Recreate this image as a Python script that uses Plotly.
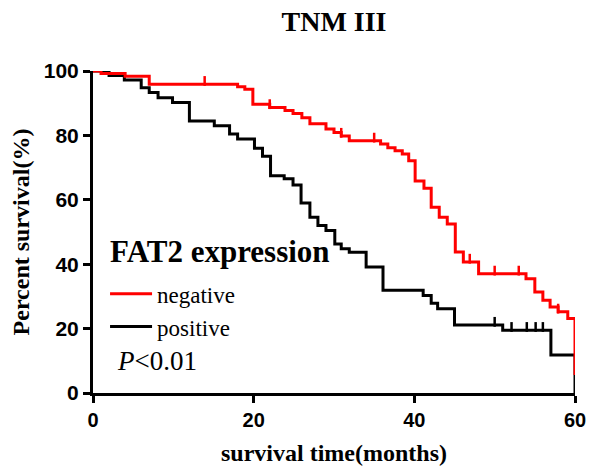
import plotly.graph_objects as go

# ---- data (Kaplan-Meier steps) ----
neg_time = [0, 1.0, 4.0, 7.0, 18.0, 18.9, 19.9, 22.0, 23.9, 24.9, 26.0, 27.0, 29.0, 30.0, 30.9, 31.9,
            35.8, 36.7, 37.6, 38.5, 39.3, 40.1, 41.2, 42.1, 43.1, 44.1, 45.1, 46.1, 48.0, 53.9, 55.0,
            56.0, 56.9, 57.9, 59.1, 60.0]
neg_surv = [100, 99.2, 98.4, 95.9, 95.1, 94.3, 89.7, 88.7, 87.7, 86.8, 85.5, 83.6, 82.0, 80.9, 79.8, 78.3,
            77.3, 76.2, 75.2, 74.2, 72.1, 65.8, 63.6, 57.7, 54.6, 52.5, 43.8, 40.7, 37.0, 35.5, 31.4,
            28.8, 26.7, 25.2, 23.1, 5.6]
neg_censor = [1.5, 13.9, 22.0, 30.9, 35.0, 46.9, 50.0, 53.0, 57.9]

pos_time = [0, 2.0, 3.9, 6.0, 7.0, 8.1, 9.9, 12.0, 15.1, 17.0, 18.0, 20.1, 21.1, 22.1, 23.8, 24.9, 25.9,
            27.0, 28.0, 29.0, 30.1, 30.9, 31.9, 34.0, 36.1, 41.1, 42.1, 42.9, 45.0, 51.0, 57.0, 60.0]
pos_surv = [100, 98.6, 97.2, 94.8, 93.3, 91.7, 90.2, 84.5, 83.0, 80.4, 78.9, 76.0, 73.5, 67.5, 66.5, 64.6,
            59.0, 54.6, 52.0, 50.5, 46.3, 44.8, 43.7, 39.1, 31.9, 30.3, 27.9, 26.2, 21.1, 19.5, 11.8, 0]
pos_censor = [1.5, 50.0, 52.1, 54.0, 55.1, 56.0]

x_ticks = [0, 20, 40, 60]
y_ticks = [0, 20, 40, 60, 80, 100]


def step_value(times, surv, t):
    v = surv[0]
    for ti, si in zip(times, surv):
        if ti <= t:
            v = si
    return v


RED = "#ff0000"
BLACK = "#000000"
SERIF = "Liberation Serif"
SANS = "Liberation Sans"

fig = go.Figure()

series = [
    ("positive", pos_time, pos_surv, pos_censor, BLACK),
    ("negative", neg_time, neg_surv, neg_censor, RED),
]
for name, tt, ss, cc, col in series:
    fig.add_trace(go.Scatter(
        x=tt, y=ss, mode="lines", name=name, line=dict(color=col, width=3, shape="hv"),
        cliponaxis=False,
    ))
    fig.add_trace(go.Scatter(
        x=cc, y=[step_value(tt, ss, c) + 1.0 for c in cc], mode="markers", showlegend=False,
        marker=dict(symbol="line-ns", size=7, line=dict(color=col, width=2.5)),
        cliponaxis=False, hoverinfo="skip",
    ))

fig.update_layout(
    width=600, height=470,
    margin=dict(l=93, r=25, t=71, b=77, autoexpand=False),
    paper_bgcolor="white", plot_bgcolor="white",
    title=dict(text="TNM III", x=0.5, xref="paper", xanchor="center",
               y=1 - 21 / 470, yref="container", yanchor="middle",
               font=dict(family=SERIF, size=28, color="black", weight="bold")),
    xaxis=dict(range=[0, 60], tickvals=x_ticks, ticktext=[str(v) for v in x_ticks],
               automargin=False,
               showline=True, linewidth=3, linecolor="black", ticks="outside", ticklen=7,
               tickwidth=3, tickcolor="black", showgrid=False, zeroline=False,
               tickfont=dict(family=SANS, size=20, color="black", weight="bold"),
               title=dict(text="survival time(months)", standoff=15,
                          font=dict(family=SERIF, size=24, color="black", weight="bold"))),
    yaxis=dict(range=[0, 100], tickvals=y_ticks, ticktext=[str(v) for v in y_ticks],
               automargin=False,
               showline=True, linewidth=3, linecolor="black", ticks="outside", ticklen=7,
               tickwidth=3, tickcolor="black", showgrid=False, zeroline=False,
               tickfont=dict(family=SANS, size=21, color="black", weight="bold"),
               title=dict(text="Percent survival(%)", standoff=8,
                          font=dict(family=SERIF, size=24, color="black", weight="bold"))),
    legend=dict(x=0.025, y=0.375, xanchor="left", yanchor="top", traceorder="reversed",
                bgcolor="rgba(0,0,0,0)", itemwidth=42,
                font=dict(family=SERIF, size=23, color="black")),
    annotations=[
        dict(text="FAT2 expression", x=0.031, y=0.438, xref="paper", yref="paper",
             xanchor="left", yanchor="middle", showarrow=False,
             font=dict(family=SERIF, size=31, color="black", weight="bold")),
        dict(text="<i>P</i>&lt;0.01", x=0.045, y=0.10, xref="paper", yref="paper",
             xanchor="left", yanchor="middle", showarrow=False,
             font=dict(family=SERIF, size=27, color="black")),
    ],
    showlegend=True,
)

fig.write_html("out.html", config={"displayModeBar": False},
               post_script="document.body.style.margin='0';")
